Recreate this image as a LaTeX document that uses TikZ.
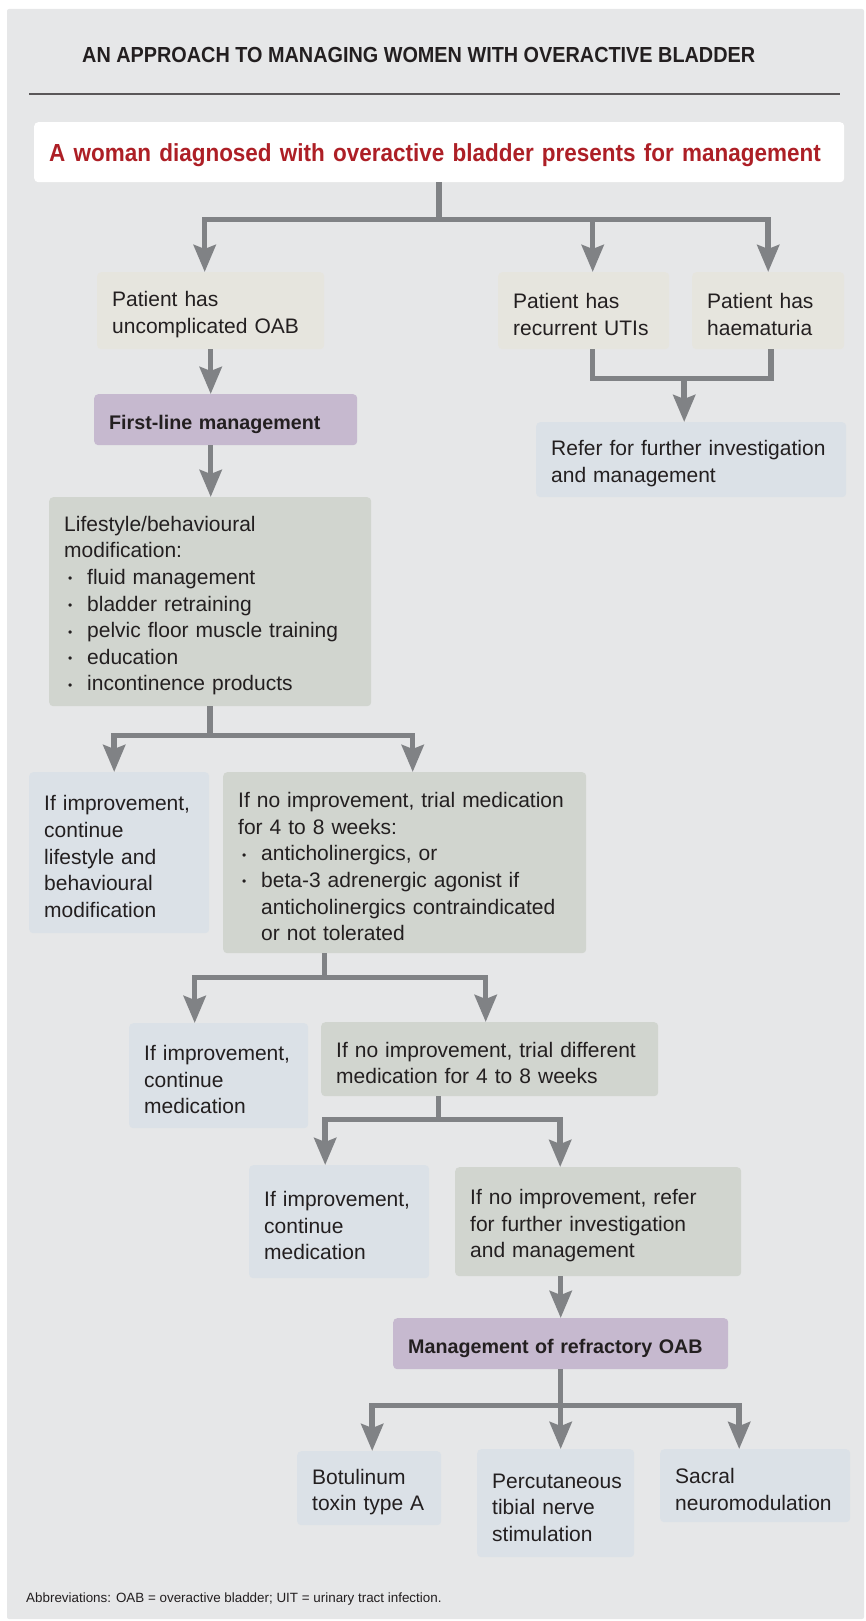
\documentclass[tikz,border=0pt]{standalone}
\usepackage{fontspec}
\usetikzlibrary{arrows.meta}
\setmainfont{Liberation Sans}
\newfontfamily\condfamily{Liberation Sans}[FakeStretch=0.91]
\definecolor{panelbg}{HTML}{E6E7E8}
\definecolor{ivorybox}{HTML}{E6E5DE}
\definecolor{lilacbox}{HTML}{C6B9CF}
\definecolor{mistbox}{HTML}{DBE1E7}
\definecolor{sagebox}{HTML}{D1D5CF}
\definecolor{linegray}{HTML}{808285}
\definecolor{leadred}{HTML}{AD1F26}
\definecolor{txt}{HTML}{231F20}
\newcommand\bodyfont{\fontsize{21}{26.6}\selectfont}
\newcommand\lblfont{\bfseries\fontsize{19.7}{24}\selectfont}
\newcommand\titlefont{\condfamily\bfseries\fontsize{21.8}{26}\selectfont}
\newcommand\leadfont{\condfamily\bfseries\fontsize{24.7}{30}\selectfont}
\newcommand\notefont{\fontsize{13.4}{16}\selectfont}
% bullet item, continuation lines go under the text
\newcommand\itm{\par\noindent\makebox[23pt][l]{\hspace{4pt}\raisebox{1.5pt}{\fontsize{12}{12}\selectfont •}}}
\newcommand\cont{\\\hspace*{23pt}}
\tikzset{
  base/.style={anchor=north west, rounded corners=4pt, inner xsep=15pt, inner ysep=0pt, align=left, text=txt, font=\bodyfont, execute at begin node={\rule{0pt}{23pt}}},
  ivory/.style={base, fill=ivorybox},
  lilac/.style={base, fill=lilacbox, font=\lblfont},
  mist/.style={base, fill=mistbox},
  sage/.style={base, fill=sagebox},
  line/.style={draw=linegray, line width=5.5pt},
  arr/.style={line, -{Stealth[length=27pt, width=22pt, inset=4pt]}},
}
\begin{document}
\begin{tikzpicture}[x=1pt, y=-1pt]
\useasboundingbox (0,0) rectangle (865,1621);
\fill[panelbg, rounded corners=2pt] (7,9) rectangle (864,1619);
\node[anchor=base west, inner sep=0pt, font=\titlefont, text=txt] (title) at (82,63) {AN APPROACH TO MANAGING WOMEN WITH OVERACTIVE BLADDER};
\draw[txt!75, line width=1.5pt] (29,94) -- (840,94);

\node[base, fill=white, text width=780pt, minimum height=60pt, font=\leadfont, text=leadred] (top) at (34,122) {A woman diagnosed with overactive bladder presents for management};

\node[ivory, text width=197pt, minimum height=77pt] (uncomp) at (97,272) {Patient has\\uncomplicated OAB};
\node[ivory, text width=141pt, minimum height=77pt] (utis) at (498,272) {Patient has\\recurrent UTIs};
\node[ivory, text width=122pt, minimum height=77pt] (haem) at (692,272) {Patient has\\haematuria};
\node[lilac, text width=233pt, minimum height=51pt] (first) at (94,394) {First-line management};
\node[mist, text width=280pt, minimum height=75pt] (refer1) at (536,422) {Refer for further investigation\\and management};

\node[sage, text width=292pt, minimum height=209pt] (life) at (49,497) {Lifestyle/behavioural\\modification:\itm fluid management\itm bladder retraining\itm pelvic floor muscle training\itm education\itm incontinence products};

\node[mist, text width=150pt, minimum height=161pt] (impr1) at (29,772) {If improvement,\\continue\\lifestyle and\\behavioural\\modification};
\node[sage, text width=333pt, minimum height=181pt] (med1) at (223,772) {If no improvement, trial medication\\for 4 to 8 weeks:\itm anticholinergics, or\itm beta-3 adrenergic agonist if\cont anticholinergics contraindicated\cont or not tolerated};

\node[mist, text width=149pt, minimum height=105pt] (impr2) at (129,1023) {If improvement,\\continue\\medication};
\node[sage, text width=307pt, minimum height=74pt] (med2) at (321,1022) {If no improvement, trial different\\medication for 4 to 8 weeks};

\node[mist, text width=150pt, minimum height=113pt] (impr3) at (249,1165) {If improvement,\\continue\\medication};
\node[sage, text width=256pt, minimum height=109pt] (refer2) at (455,1167) {If no improvement, refer\\for further investigation\\and management};

\node[lilac, text width=305pt, minimum height=51pt] (refr) at (393,1318) {Management of refractory OAB};

\node[mist, text width=114pt, minimum height=74pt] (botu) at (297,1451) {Botulinum\\toxin type A};
\node[mist, text width=127pt, minimum height=108pt] (ptns) at (477,1449) {Percutaneous\\tibial nerve\\stimulation};
\node[mist, text width=160pt, minimum height=73pt] (sacral) at (660,1449) {Sacral\\neuromodulation};

\node[anchor=base west, inner sep=0pt, font=\notefont, text=txt] (abbr) at (26,1602) {Abbreviations: OAB = overactive bladder; UIT = urinary tract infection.};

% connectors
\draw[line] (top.south) -- ++(0,37) coordinate (s0);
\draw[arr] (s0) -| ([xshift=-6pt]uncomp.north);
\draw[arr] (s0) -| ([xshift=9pt]utis.north);
\draw[arr] (s0) -| (haem.north);

\draw[arr] (uncomp.south) -- (uncomp.south |- first.north);
\draw[arr] (uncomp.south |- first.south) -- (uncomp.south |- life.north);

\draw[line] ([xshift=9pt]utis.south) -- ++(0,29) -| ([xshift=3pt]haem.south);
\draw[arr] ([xshift=-7pt,yshift=44pt]refer1.north) -- ([xshift=-7pt]refer1.north);

\draw[line] (life.south) -- ++(0,29) coordinate (s2);
\draw[arr] (s2) -| ([xshift=-5pt]impr1.north);
\draw[arr] (s2) -| ([xshift=8pt]med1.north);

\draw[line] ([xshift=-80pt]med1.south) -- ++(0,24) coordinate (s3);
\draw[arr] (s3) -| ([xshift=-24pt]impr2.north);
\draw[arr] (s3) -| ([xshift=-4pt]med2.north);

\draw[line] ([xshift=-51pt]med2.south) -- ++(0,23) coordinate (s4);
\draw[arr] (s4) -| ([xshift=-14pt]impr3.north);
\draw[arr] (s4) -| ([xshift=-38pt]refer2.north);

\draw[arr] (refr.north |- refer2.south) -- (refr.north);

\draw[line] (refr.south) -- ++(0,36) coordinate (s5);
\draw[arr] (s5) -| ([xshift=3pt]botu.north);
\draw[arr] (refr.south) -- (refr.south |- ptns.north);
\draw[arr] (s5) -| ([xshift=-16pt]sacral.north);
\end{tikzpicture}
\end{document}
